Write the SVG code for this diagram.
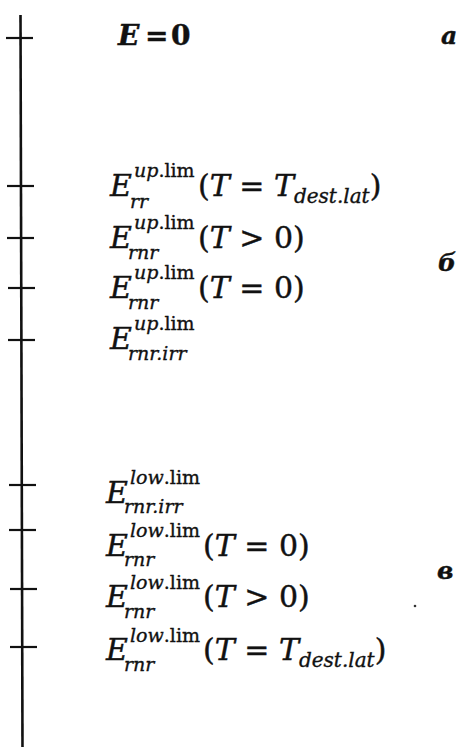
<svg xmlns="http://www.w3.org/2000/svg" width="460" height="747" viewBox="0 0 460 747">
<style>
.m{font-family:"DejaVu Serif",serif;font-size:30px;fill:#111;stroke:#111;stroke-width:0.45}
.i{font-style:italic}
.s{font-size:19px;stroke-width:0.35}
.d{font-size:20px;stroke-width:0.35}
.b{font-weight:bold}
.ax{stroke:#111;stroke-width:2.6;fill:none;stroke-linecap:butt}
.tk{stroke:#111;stroke-width:2.2}
</style>
<rect width="460" height="747" fill="#fff"/>
<g id="axis">
<path class="ax" d="M20.5 15 L22.5 747"/>
<g class="tk">
<line x1="6" y1="38" x2="33" y2="38"/>
<line x1="7" y1="186" x2="34" y2="186"/>
<line x1="7" y1="238" x2="34" y2="238"/>
<line x1="8" y1="288" x2="35" y2="288"/>
<line x1="8" y1="340" x2="35" y2="340"/>
<line x1="9" y1="485" x2="36" y2="485"/>
<line x1="9" y1="530" x2="36" y2="530"/>
<line x1="10" y1="589" x2="37" y2="589"/>
<line x1="10" y1="647" x2="37" y2="647"/>
</g>
</g>
<g id="n-e0">
<text class="m b" style="font-size:28px" x="118" y="45"><tspan class="i">E</tspan><tspan x="145">=</tspan><tspan x="171">0</tspan></text>
</g>
<g id="n-rr-up-dest">
<text class="m i" x="110" y="196">E</text>
<text class="m s" x="134" y="177"><tspan class="i">up</tspan>.lim</text>
<text class="m s i" x="130" y="208">rr</text>
<text class="m" x="198" y="196">(<tspan class="i">T</tspan> = <tspan class="i">T</tspan><tspan class="d i" dy="7">dest.lat</tspan><tspan dy="-7">)</tspan></text>
</g>
<g id="n-rnr-up-gt">
<text class="m i" x="110" y="248">E</text>
<text class="m s" x="134" y="229"><tspan class="i">up</tspan>.lim</text>
<text class="m s i" x="128" y="259">rnr</text>
<text class="m" x="198" y="248">(<tspan class="i">T</tspan> &gt; 0)</text>
</g>
<g id="n-rnr-up-eq">
<text class="m i" x="110" y="298">E</text>
<text class="m s" x="134" y="279"><tspan class="i">up</tspan>.lim</text>
<text class="m s i" x="128" y="309">rnr</text>
<text class="m" x="198" y="298">(<tspan class="i">T</tspan> = 0)</text>
</g>
<g id="n-rnr-up-irr">
<text class="m i" x="110" y="349">E</text>
<text class="m s" x="134" y="330"><tspan class="i">up</tspan>.lim</text>
<text class="m s i" x="128" y="360">rnr.irr</text>
</g>
<g id="n-rnr-low-irr">
<text class="m i" x="106" y="503">E</text>
<text class="m s" x="130" y="484"><tspan class="i">low</tspan>.lim</text>
<text class="m s i" x="124" y="513">rnr.irr</text>
</g>
<g id="n-rnr-low-eq">
<text class="m i" x="106" y="556">E</text>
<text class="m s" x="130" y="537"><tspan class="i">low</tspan>.lim</text>
<text class="m s i" x="124" y="566">rnr</text>
<text class="m" x="203" y="556">(<tspan class="i">T</tspan> = 0)</text>
</g>
<g id="n-rnr-low-gt">
<text class="m i" x="106" y="607">E</text>
<text class="m s" x="130" y="589"><tspan class="i">low</tspan>.lim</text>
<text class="m s i" x="124" y="618">rnr</text>
<text class="m" x="203" y="607">(<tspan class="i">T</tspan> &gt; 0)</text>
</g>
<g id="n-rnr-low-dest">
<text class="m i" x="106" y="660">E</text>
<text class="m s" x="130" y="642"><tspan class="i">low</tspan>.lim</text>
<text class="m s i" x="124" y="671">rnr</text>
<text class="m" x="203" y="660">(<tspan class="i">T</tspan> = <tspan class="i">T</tspan><tspan class="d i" dy="7">dest.lat</tspan><tspan dy="-7">)</tspan></text>
</g>
<g id="labels">
<text class="m i b" style="font-size:25px" x="441" y="44">а</text>
<text class="m i b" style="font-size:25px" x="438" y="271">б</text>
<text class="m i b" style="font-size:25px" x="437" y="579">в</text>
</g>
<circle cx="415" cy="606" r="1.3" fill="#333"/>
</svg>
